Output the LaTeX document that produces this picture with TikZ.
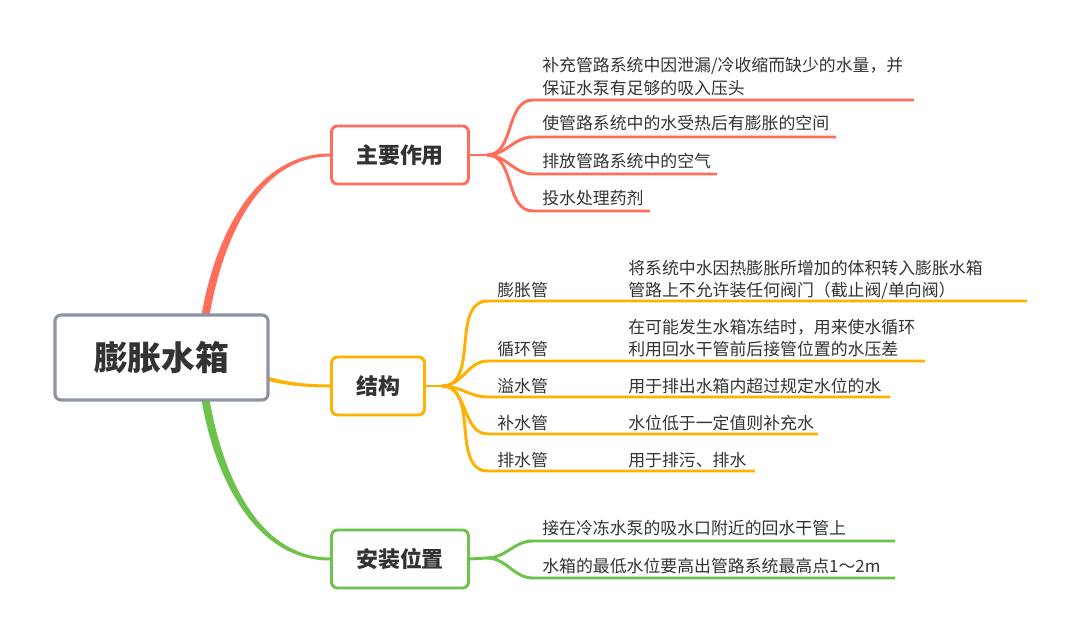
\documentclass[tikz,border=0pt]{standalone}
\usepackage{fontspec}
\setmainfont{Noto Sans CJK SC}
\usepackage{xcolor}
\usetikzlibrary{calc, backgrounds}
\definecolor{rc}{HTML}{FF6E5A}
\definecolor{oc}{HTML}{FFB000}
\definecolor{gc}{HTML}{6CC24A}
\definecolor{bc}{HTML}{8A94A6}
\definecolor{tc}{HTML}{333333}

\begin{document}
\begin{tikzpicture}[x=0.025cm, y=-0.025cm,
    root/.style={rectangle, draw=bc, fill=white, line width=2.2pt, rounded corners=0.15cm,
                 minimum width=5.325cm, minimum height=2.125cm, text=tc,
                 font=\bfseries\fontsize{24}{28}\selectfont},
    topic/.style={rectangle, draw, fill=white, line width=2.1pt, rounded corners=0.15cm,
                  minimum height=1.45cm, text=tc, font=\bfseries\fontsize{15.6}{18}\selectfont},
    leaf/.style={anchor=base west, align=left, inner sep=0pt, text=tc,
                 font=\fontsize{12}{16}\selectfont},
    twig/.style={line width=2.1pt},
]
\useasboundingbox (0,0) rectangle (1080,643);
% Root
\node[root] (root) at (161.5,357.5) {膨胀水箱};
% Main topics
\node[topic, draw=rc, minimum width=3.425cm] (zy) at (400,155) {主要作用};
\node[topic, draw=oc, minimum width=2.325cm] (jg) at (378,386) {结构};
\node[topic, draw=gc, minimum width=3.425cm] (az) at (400,559) {安装位置};
% 主要作用 (two-line leaves sit on their last line)
\node[leaf] (zyt1) at (542,94.5) {补充管路系统中因泄漏/冷收缩而缺少的水量，并\\保证水泵有足够的吸入压头};
\node[leaf] (zyt2) at (542,129.5) {使管路系统中的水受热后有膨胀的空间};
\node[leaf] (zyt3) at (542,168) {排放管路系统中的空气};
\node[leaf] (zyt4) at (542,204.5) {投水处理药剂};
% 结构
\node[leaf] (jgs1) at (497,296.5) {膨胀管};
\node[leaf] (jgs2) at (497,355.5) {循环管};
\node[leaf] (jgs3) at (497,392.5) {溢水管};
\node[leaf] (jgs4) at (497,429.5) {补水管};
\node[leaf] (jgs5) at (497,466.5) {排水管};
\node[leaf] (jgt1) at (628,296.5) {将系统中水因热膨胀所增加的体积转入膨胀水箱\\管路上不允许装任何阀门（截止阀/单向阀）};
\node[leaf] (jgt2) at (628,355.5) {在可能发生水箱冻结时，用来使水循环\\利用回水干管前后接管位置的水压差};
\node[leaf] (jgt3) at (628,392.5) {用于排出水箱内超过规定水位的水};
\node[leaf] (jgt4) at (628,429.5) {水位低于一定值则补充水};
\node[leaf] (jgt5) at (628,466.5) {用于排污、排水};
% 安装位置
\node[leaf] (azt1) at (542,534.5) {接在冷冻水泵的吸水口附近的回水干管上};
\node[leaf] (azt2) at (542,572) {水箱的最低水位要高出管路系统最高点1～2m};

% junctions and underline ends
\coordinate (zyj) at (487,155);
\coordinate (jgj) at (442,386);
\coordinate (azj) at (487,558);
\coordinate (zy1) at (914,100);
\coordinate (zy2) at (836,137);
\coordinate (zy3) at (717,174);
\coordinate (zy4) at (650,211);
\coordinate (jg1) at (1027,301);
\coordinate (jg2) at (925,361);
\coordinate (jg3) at (890,397);
\coordinate (jg4) at (818,434);
\coordinate (jg5) at (755,471);
\coordinate (az1) at (895,541);
\coordinate (az2) at (895,578);

\begin{scope}[on background layer]
% main branches
\fill[rc] ($(root.north)+(40,2)$) .. controls +(13,-77) and +(-76,0) .. ($(zy.west)+(0,-1.5)$)
    -- ($(zy.west)+(0,1.5)$) .. controls +(-72,0) and +(13,-75) .. ($(root.north)+(48,2)$) -- cycle;
\fill[oc] ($(root.center)+(0,-4)$) .. controls +(85,0) and +(-85,0) .. ($(jg.west)+(0,-1.5)$)
    -- ($(jg.west)+(0,1.5)$) .. controls +(-85,0) and +(85,0) .. ($(root.center)+(0,4)$) -- cycle;
\fill[gc] ($(root.south)+(40,-2)$) .. controls +(13,77) and +(-76,0) .. ($(az.west)+(0,1.5)$)
    -- ($(az.west)+(0,-1.5)$) .. controls +(-72,0) and +(13,75) .. ($(root.south)+(48,-2)$) -- cycle;
% twigs
\draw[twig, rc] (zy.east) -- (zyj);
\draw[twig, oc] (jg.east) -- (jgj);
\draw[twig, gc] (az.east) -- (azj);
\foreach \e in {zy1,zy2,zy3,zy4}
  \draw[twig, rc] (zyj) to[out=0,in=180] ($(zyj|-\e)+(46,0)$) -- (\e);
\foreach \e in {jg1,jg2,jg3,jg4,jg5}
  \draw[twig, oc] (jgj) to[out=0,in=180] ($(jgj|-\e)+(46,0)$) -- (\e);
\foreach \e in {az1,az2}
  \draw[twig, gc] (azj) to[out=0,in=180] ($(azj|-\e)+(46,0)$) -- (\e);
\end{scope}
\end{tikzpicture}
\end{document}
